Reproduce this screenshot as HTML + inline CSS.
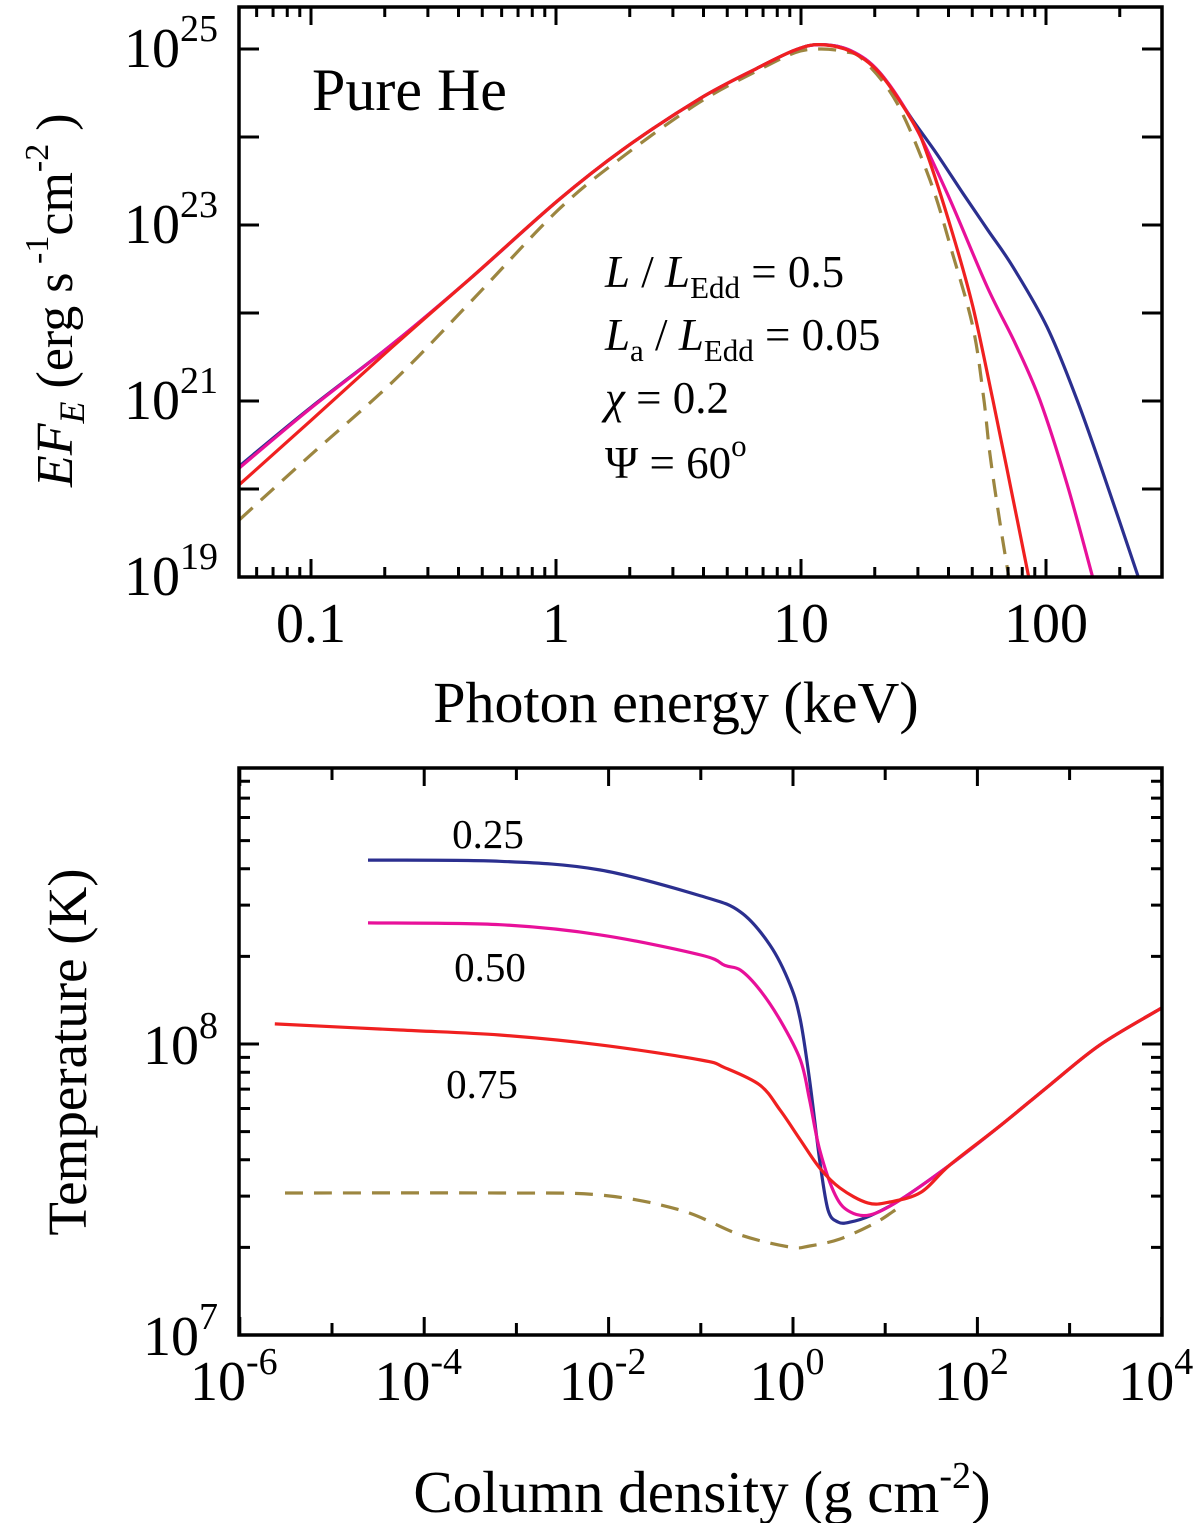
<!DOCTYPE html>
<html><head><meta charset="utf-8"><style>
html,body{margin:0;padding:0;background:#fff}
svg{display:block}
svg text{font-family:"Liberation Serif","Times New Roman",serif}
</style></head><body>
<svg id="fig" width="1200" height="1523" viewBox="0 0 1200 1523" xmlns="http://www.w3.org/2000/svg">
<g id="topchart"></g>
<g id="botchart"></g>
</svg>
<script>
// ---- Top chart data (log10 values) ----
const specBlueE = [0.051,0.1,0.216,0.446,1.02,1.88,3.83,6.6,9.5,12.0,16.0,21.0,28.6,36.0,45.8,58,73.4,101,134,180,238];
const specBlueF = [20.26,20.93,21.65,22.39,23.28,23.86,24.43,24.78,24.99,25.05,24.98,24.73,24.19,23.80,23.36,22.94,22.52,21.84,21.01,20.0,19.0];
const specMagE = [0.051,0.1,0.216,0.446,1.02,1.88,3.83,6.6,9.5,12.0,16.0,21.0,28.6,39.5,57.5,75,94.4,122,155];
const specMagF = [20.24,20.92,21.65,22.39,23.28,23.86,24.43,24.78,24.99,25.05,24.98,24.73,24.17,23.36,22.3,21.65,21.01,20.05,19.0];
const specRedE = [0.051,0.1,0.216,0.446,1.02,1.88,3.83,6.6,9.5,12.0,16.0,21.0,28.6,32.6,41.5,50.3,60.7,72,85];
const specRedF = [20.05,20.78,21.62,22.39,23.28,23.86,24.43,24.78,24.99,25.05,24.97,24.72,24.17,23.82,22.91,22.07,21.01,20.0,19.0];
const specDashE = [0.051,0.1,0.216,0.446,1.02,1.88,3.83,6.6,9.5,12.0,15.0,17.9,24.6,33.6,41.5,50.3,55.6,59.0,65.0,70.5];
const specDashF = [19.65,20.39,21.22,22.12,23.17,23.78,24.39,24.75,24.96,25.0,24.97,24.88,24.39,23.51,22.68,21.84,21.05,20.4,19.6,19.0];
const specYTicks = [19,21,23,25];
const specXTicks = ["0.1","1","10","100"];
// ---- Bottom chart data (log10 N, log10 T) ----
const tBlueN = [-4.61,-3.18,-2.09,-1.0,-0.57,-0.25,-0.03,0.08,0.18,0.29,0.38,0.49,0.62,0.84,1.16,1.70,2.25,2.79,3.33,4.0];
const tBlueT = [8.632,8.628,8.598,8.509,8.454,8.34,8.203,8.082,7.876,7.60,7.43,7.388,7.388,7.41,7.464,7.584,7.72,7.86,7.997,8.124];
const tMagN = [-4.61,-3.18,-2.09,-1.0,-0.74,-0.57,-0.36,-0.14,0.08,0.18,0.29,0.46,0.62,0.84,1.16,1.70,2.25,2.79,3.33,4.0];
const tMagT = [8.416,8.41,8.375,8.306,8.27,8.254,8.186,8.082,7.945,7.808,7.636,7.48,7.423,7.413,7.464,7.584,7.72,7.86,7.997,8.124];
const tRedN = [-5.62,-4.26,-3.18,-2.09,-1.0,-0.75,-0.36,-0.14,0.08,0.29,0.51,0.81,1.05,1.39,1.70,2.25,2.79,3.33,4.0];
const tRedT = [8.069,8.048,8.031,7.997,7.945,7.92,7.859,7.773,7.67,7.574,7.505,7.454,7.457,7.491,7.584,7.72,7.86,7.997,8.124];
const tDashN = [-5.51,-3.18,-2.09,-1.23,-0.57,-0.03,0.18,0.51,0.89,1.11];
const tDashT = [7.488,7.488,7.481,7.43,7.344,7.302,7.306,7.33,7.385,7.43];
const tXTicks = [-6,-4,-2,0,2,4];
const tYTicks = [7,8];

const NS="http://www.w3.org/2000/svg";
function el(parent,tag,attrs,text){const e=document.createElementNS(NS,tag);for(const k in attrs)e.setAttribute(k,attrs[k]);if(text!==undefined)e.textContent=text;parent.appendChild(e);return e;}
function series(g,xs,ys,fx,fy,color,name,dash){
  const P=xs.map((x,i)=>[fx(x),fy(ys[i])]);
  let d='M'+P[0][0].toFixed(1)+','+P[0][1].toFixed(1);
  for(let i=0;i<P.length-1;i++){
    const p0=P[Math.max(0,i-1)],p1=P[i],p2=P[i+1],p3=P[Math.min(P.length-1,i+2)];
    const c1=[p1[0]+(p2[0]-p0[0])/6,p1[1]+(p2[1]-p0[1])/6];
    const c2=[p2[0]-(p3[0]-p1[0])/6,p2[1]-(p3[1]-p1[1])/6];
    d+=`C${c1[0].toFixed(1)},${c1[1].toFixed(1)} ${c2[0].toFixed(1)},${c2[1].toFixed(1)} ${p2[0].toFixed(1)},${p2[1].toFixed(1)}`;
  }
  const p=el(g,'path',{d:d,fill:'none',stroke:color,'stroke-width':3.2,'stroke-linejoin':'round','stroke-dasharray':dash||'none'});
  
  
}

// ---- top axes ----
const TA={l:239,r:1162,t:7,b:577};
const tx=e=>556+245*Math.log10(e);
const ty=lf=>49+88*(25-lf);
const topG=document.getElementById('topchart');
const clipT=el(topG,'clipPath',{id:'ct'});el(clipT,'rect',{x:TA.l,y:TA.t,width:TA.r-TA.l,height:TA.b-TA.t});
const tg=el(topG,'g',{'clip-path':'url(#ct)'});
series(tg,specDashE,specDashF,tx,ty,'#9c8640','dashed-spectrum','18,11');
series(tg,specBlueE,specBlueF,tx,ty,'#2b2f8f','spectrum-0.25');
series(tg,specMagE,specMagF,tx,ty,'#e8109a','spectrum-0.50');
series(tg,specRedE,specRedF,tx,ty,'#f02020','spectrum-0.75');
let tk='';
for(let dec=-2;dec<=2;dec++)for(let m=1;m<10;m++){const v=m*Math.pow(10,dec);const x=tx(v);if(x<TA.l+1||x>TA.r-1)continue;const L=m===1?18:10;tk+=`M${x},${TA.b}v${-L}M${x},${TA.t}v${L}`;}
for(let lf=19;lf<=25;lf++){const y=ty(lf);tk+=`M${TA.l},${y}h20M${TA.r},${y}h-20`;}
el(topG,'path',{d:tk,stroke:'#000','stroke-width':3,fill:'none'});
el(topG,'rect',{x:TA.l,y:TA.t,width:TA.r-TA.l,height:TA.b-TA.t,fill:'none',stroke:'#000','stroke-width':3.5});
specYTicks.forEach(lf=>{const t=el(topG,'text',{x:218,y:ty(lf)+18,'text-anchor':'end','font-size':56});
 
 
 el(t,'tspan',{},'10');el(t,'tspan',{dy:-26,'font-size':38},String(lf));});
specXTicks.forEach(s=>{const t=el(topG,'text',{x:tx(parseFloat(s)),y:642,'text-anchor':'middle','font-size':56},s);
 
 });
let t1=el(topG,'text',{x:676,y:722,'text-anchor':'middle','font-size':58},'Photon energy (keV)');


let yt=el(topG,'text',{transform:'translate(72,487) rotate(-90)','font-size':52});


el(yt,'tspan',{'font-style':'italic'},'EF');el(yt,'tspan',{dy:12,'font-size':36,'font-style':'italic'},'E');
el(yt,'tspan',{dy:-12},' (erg s');el(yt,'tspan',{dy:-24,'font-size':34},' -1');el(yt,'tspan',{dy:24},'cm');
el(yt,'tspan',{dy:-24,'font-size':34},'-2');el(yt,'tspan',{dy:24},' )');
let ph=el(topG,'text',{x:312,y:110,'font-size':60},'Pure He');


const ann=el(topG,'g',{'font-size':45});


let a=el(ann,'text',{x:605,y:287});el(a,'tspan',{'font-style':'italic'},'L');el(a,'tspan',{},' / ');el(a,'tspan',{'font-style':'italic'},'L');el(a,'tspan',{dy:11,'font-size':31},'Edd');el(a,'tspan',{dy:-11},' = 0.5');
a=el(ann,'text',{x:605,y:350});el(a,'tspan',{'font-style':'italic'},'L');el(a,'tspan',{dy:11,'font-size':31},'a');el(a,'tspan',{dy:-11},' / ');el(a,'tspan',{'font-style':'italic'},'L');el(a,'tspan',{dy:11,'font-size':31},'Edd');el(a,'tspan',{dy:-11},' = 0.05');
a=el(ann,'text',{x:605,y:413});el(a,'tspan',{'font-style':'italic'},'χ');el(a,'tspan',{},' = 0.2');
a=el(ann,'text',{x:605,y:478});el(a,'tspan',{},'Ψ = 60');el(a,'tspan',{dy:-22,'font-size':31},'o');

// ---- bottom axes ----
const BA={l:239,r:1162,t:768,b:1335};
const bx=ln=>793+92.2*ln;
const by=lt=>1044-291*(lt-8);
const botG=document.getElementById('botchart');
const clipB=el(botG,'clipPath',{id:'cb'});el(clipB,'rect',{x:BA.l,y:BA.t,width:BA.r-BA.l,height:BA.b-BA.t});
const bg=el(botG,'g',{'clip-path':'url(#cb)'});
series(bg,tDashN,tDashT,bx,by,'#9c8640','dashed-temperature','18,11');
series(bg,tBlueN,tBlueT,bx,by,'#2b2f8f','temperature-0.25');
series(bg,tMagN,tMagT,bx,by,'#e8109a','temperature-0.50');
series(bg,tRedN,tRedT,bx,by,'#f02020','temperature-0.75');
tk='';
for(let d=-6;d<=4;d++){const x=bx(d);const L=(d%2===0)?18:12;tk+=`M${x},${BA.b}v${-L}M${x},${BA.t}v${L}`;}
for(let dec=7;dec<=8;dec++)for(let m=1;m<10;m++){const lt=dec+Math.log10(m);const y=by(lt);if(y<BA.t+1||y>BA.b-1)continue;const L=m===1?20:11;tk+=`M${BA.l},${y}h${L}M${BA.r},${y}h${-L}`;}
el(botG,'path',{d:tk,stroke:'#000','stroke-width':3,fill:'none'});
el(botG,'rect',{x:BA.l,y:BA.t,width:BA.r-BA.l,height:BA.b-BA.t,fill:'none',stroke:'#000','stroke-width':3.5});
tYTicks.forEach(lt=>{const t=el(botG,'text',{x:218,y:by(lt)+20,'text-anchor':'end','font-size':56});
 
 
 el(t,'tspan',{},'10');el(t,'tspan',{dy:-26,'font-size':38},String(lt));});
tXTicks.forEach(d=>{const t=el(botG,'text',{x:bx(d)-6,y:1400,'text-anchor':'middle','font-size':56});
 
 
 el(t,'tspan',{},'10');el(t,'tspan',{dy:-26,'font-size':38},String(d));});
let bt=el(botG,'text',{x:702,y:1512,'text-anchor':'middle','font-size':59});


el(bt,'tspan',{},'Column density (g cm');el(bt,'tspan',{dy:-24,'font-size':38},'-2');el(bt,'tspan',{dy:24},')');
let byt=el(botG,'text',{transform:'translate(86,1052) rotate(-90)','text-anchor':'middle','font-size':55},'Temperature (K)');


[['0.25',488,848],['0.50',490,981],['0.75',482,1098]].forEach(([s,x,y])=>{
 const t=el(botG,'text',{x:x,y:y,'text-anchor':'middle','font-size':41},s);
 
 });
</script>
</body></html>
